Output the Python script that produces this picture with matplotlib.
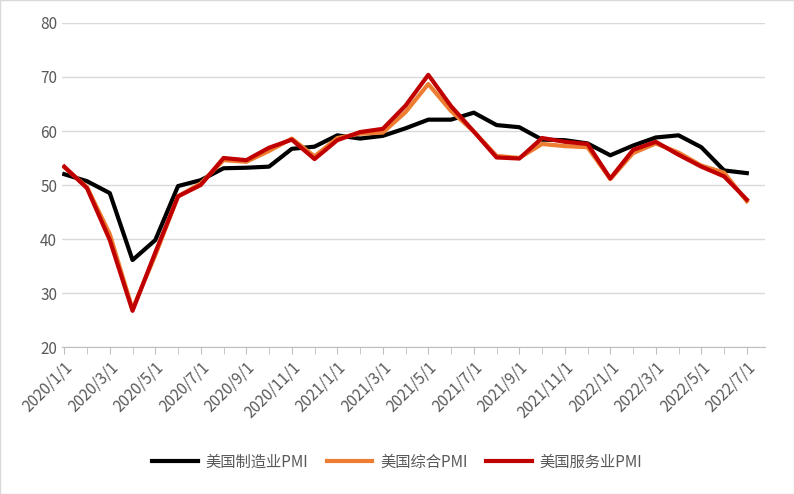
import matplotlib
matplotlib.use("Agg")
import matplotlib.pyplot as plt
import pandas as pd

plt.rcParams['font.family'] = ['Noto Sans CJK SC', 'DejaVu Sans']

dates = pd.date_range('2020-01-01', '2022-07-01', freq='MS')
manufacturing = [52.0, 50.7, 48.5, 36.1, 39.8, 49.8, 50.9, 53.1, 53.2, 53.4, 56.7, 57.1,
                 59.2, 58.6, 59.1, 60.5, 62.1, 62.1, 63.4, 61.1, 60.7, 58.4, 58.3, 57.7,
                 55.5, 57.3, 58.8, 59.2, 57.0, 52.7, 52.2]
composite = [53.3, 49.6, 40.9, 27.0, 37.0, 47.9, 50.3, 54.6, 54.3, 56.3, 58.6, 55.3,
             58.7, 59.5, 59.7, 63.5, 68.7, 63.7, 59.9, 55.4, 55.0, 57.6, 57.2, 57.0,
             51.1, 55.9, 57.7, 56.0, 53.6, 52.3, 47.0]
services = [53.4, 49.4, 39.8, 26.7, 37.5, 47.9, 50.0, 55.0, 54.6, 56.9, 58.4, 54.8,
            58.3, 59.8, 60.4, 64.7, 70.4, 64.6, 59.9, 55.1, 54.9, 58.7, 58.0, 57.6,
            51.2, 56.5, 58.0, 55.6, 53.4, 51.6, 47.3]
labels = ['美国制造业PMI', '美国综合PMI', '美国服务业PMI']

fig = plt.figure(figsize=(7.94, 4.94), dpi=100)
ax = fig.add_axes([62/794, 1-347/494, (765-62)/794, (347-23)/494])
x = list(range(len(dates)))
ax.plot(x, manufacturing, color='#000000', lw=3, label=labels[0])
ax.plot(x, composite, color='#ED7D31', lw=3, label=labels[1])
ax.plot(x, services, color='#C00000', lw=3, label=labels[2])
ax.set_ylim(20, 80)
ax.set_yticks(range(20, 81, 10))
ax.set_xlim(-0.1, len(x) - 0.2)
ax.set_xticks(x[::2])
ax.set_xticklabels([f'{d.year}/{d.month}/1' for d in dates[::2]], rotation=45, ha='right',
                   rotation_mode='anchor', fontsize=11, color='#595959')
ax.set_xticks(x, minor=True)
ax.tick_params(axis='x', which='both', length=5, color='#BFBFBF')
ax.tick_params(axis='y', length=0, labelsize=11, labelcolor='#595959')
ax.grid(axis='y', color='#D9D9D9', lw=1)
ax.set_axisbelow(True)
for s in ['top', 'right', 'left']:
    ax.spines[s].set_visible(False)
ax.spines['bottom'].set_color('#BFBFBF')
fig.legend(loc='center', bbox_to_anchor=(0.5, 1-462/494), ncol=3, frameon=False,
           fontsize=11, labelcolor='#595959', handlelength=3.0, handletextpad=0.5,
           columnspacing=1.2)
fig.patches.append(plt.Rectangle((0, 0), 1, 1, transform=fig.transFigure, fill=False,
                                 edgecolor='#D9D9D9', lw=1))
fig.savefig('out.png', dpi=100)
